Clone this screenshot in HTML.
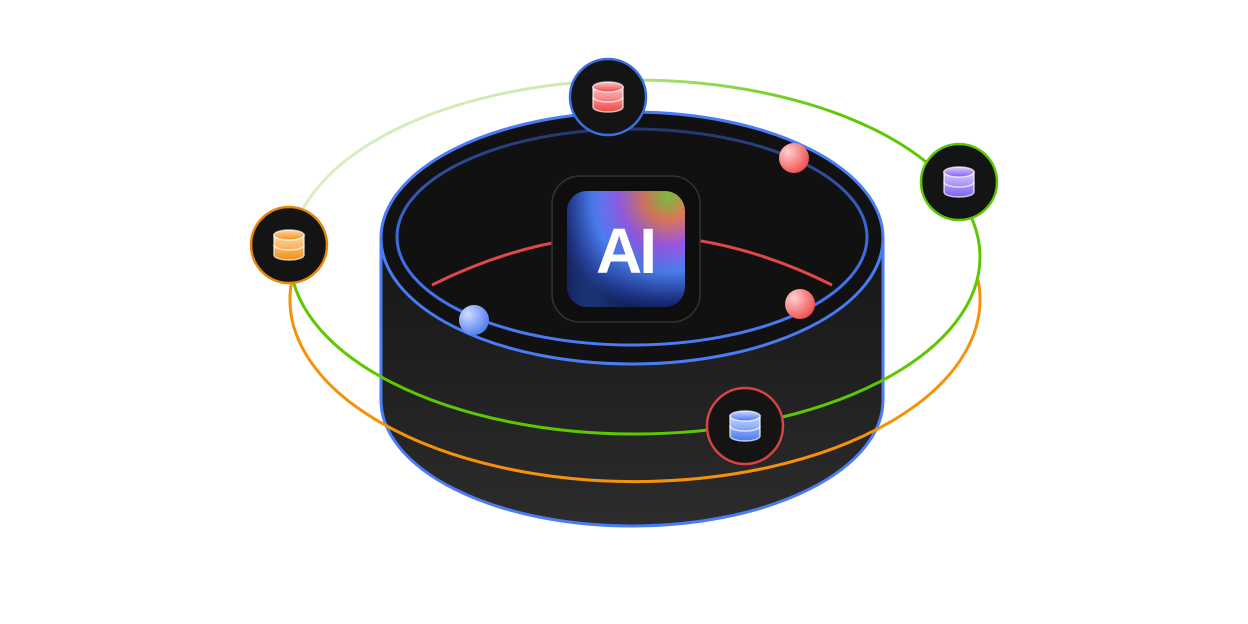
<!DOCTYPE html>
<html><head><meta charset="utf-8"><style>
html,body{margin:0;padding:0;background:#fff;width:1248px;height:624px;overflow:hidden}
</style></head><body>
<svg width="1248" height="624" viewBox="0 0 1248 624" xmlns="http://www.w3.org/2000/svg">
<defs>
<linearGradient id="side" x1="0" y1="0" x2="0" y2="1">
<stop offset="0" stop-color="#161616"/><stop offset="1" stop-color="#2c2c2c"/>
</linearGradient>
<linearGradient id="green" gradientUnits="userSpaceOnUse" x1="290" y1="0" x2="980" y2="0">
<stop offset="0" stop-color="#d8f0c0"/><stop offset="0.4" stop-color="#cdeab0"/><stop offset="0.8" stop-color="#5cc800"/><stop offset="1" stop-color="#5cc800"/>
</linearGradient>
<linearGradient id="innerRing" x1="0" y1="0" x2="0" y2="1">
<stop offset="0" stop-color="#24386e"/><stop offset="0.5" stop-color="#3d6ae0"/><stop offset="1" stop-color="#4a7cf5"/>
</linearGradient>
<radialGradient id="ai1" cx="0.85" cy="0.05" r="1">
<stop offset="0" stop-color="#7ec23a"/><stop offset="0.2" stop-color="#e0785a"/><stop offset="0.42" stop-color="#9a58e8"/><stop offset="0.65" stop-color="#4a7ef0"/><stop offset="0.9" stop-color="#1a2d80"/><stop offset="1" stop-color="#0c1a4a"/>
</radialGradient>
<linearGradient id="ai2" x1="0" y1="0" x2="1" y2="0">
<stop offset="0" stop-color="#1a2a70" stop-opacity="0.6"/><stop offset="0.3" stop-color="#4a7ef0" stop-opacity="0.2"/><stop offset="1" stop-color="#000" stop-opacity="0"/>
</linearGradient>
<linearGradient id="dbO" x1="0" y1="0" x2="0" y2="1"><stop offset="0" stop-color="#ffd9a8"/><stop offset="1" stop-color="#f0901a"/></linearGradient>
<linearGradient id="dbR" x1="0" y1="0" x2="0" y2="1"><stop offset="0" stop-color="#ffc0c0"/><stop offset="1" stop-color="#f04848"/></linearGradient>
<linearGradient id="dbP" x1="0" y1="0" x2="0" y2="1"><stop offset="0" stop-color="#d8ccff"/><stop offset="1" stop-color="#8060f0"/></linearGradient>
<linearGradient id="dbB" x1="0" y1="0" x2="0" y2="1"><stop offset="0" stop-color="#c8d8ff"/><stop offset="1" stop-color="#4a78f0"/></linearGradient>
<radialGradient id="ballR" cx="0.3" cy="0.3" r="0.8"><stop offset="0" stop-color="#ffd0d0"/><stop offset="1" stop-color="#f04848"/></radialGradient>
<radialGradient id="ballB" cx="0.3" cy="0.3" r="0.8"><stop offset="0" stop-color="#d0dcff"/><stop offset="1" stop-color="#4a78f0"/></radialGradient>
</defs>

<!-- cylinder -->
<path d="M381,238 L381,400 A251,126 0 0 0 883,400 L883,238 Z" fill="url(#side)" stroke="#4a7cf5" stroke-width="3"/>
<ellipse cx="632" cy="238" rx="251" ry="126" fill="#111" stroke="#4a7cf5" stroke-width="3"/>
<ellipse cx="632" cy="237" rx="235" ry="108" fill="#111" stroke="url(#innerRing)" stroke-width="3"/>
<path d="M432,285 Q632,185 832,285" fill="none" stroke="#e04848" stroke-width="3"/>

<!-- orbits -->
<path d="M292,280 A345,182 0 1 0 978,280" fill="none" stroke="#f5920a" stroke-width="3"/>
<path d="M290,257 A345,177 0 0 0 980,257" fill="none" stroke="#5cc800" stroke-width="3"/>
<path d="M290,257 A345,177 0 0 1 980,257" fill="none" stroke="url(#green)" stroke-width="3"/>

<!-- AI tile -->
<rect x="552" y="176" width="148" height="146" rx="28" fill="#0e0e0e" stroke="#333" stroke-width="1.5"/>
<rect x="567" y="191" width="118" height="116" rx="20" fill="url(#ai1)"/>
<rect x="567" y="191" width="118" height="116" rx="20" fill="url(#ai2)"/>
<text x="625" y="273" text-anchor="middle" font-family="Liberation Sans, sans-serif" font-size="64" font-weight="bold" fill="#fff" letter-spacing="-3">AI</text>

<!-- balls -->
<circle cx="794" cy="158" r="15" fill="url(#ballR)"/>
<circle cx="800" cy="304" r="15" fill="url(#ballR)"/>
<circle cx="474" cy="320" r="15" fill="url(#ballB)"/>

<!-- nodes -->
<g>
<circle cx="608" cy="97" r="38" fill="#141414" stroke="#3b6fe0" stroke-width="2.5"/>
<g transform="translate(608,97)" fill="url(#dbR)" stroke="#fff" stroke-width="1.5" stroke-opacity="0.7">
<path d="M-15,-10 L-15,10 A15,5 0 0 0 15,10 L15,-10 Z"/><ellipse cx="0" cy="-10" rx="15" ry="5"/><path d="M-15,0 A15,5 0 0 0 15,0" fill="none"/></g>
</g>
<g>
<circle cx="959" cy="182" r="38" fill="#141414" stroke="#5cc800" stroke-width="2.5"/>
<g transform="translate(959,182)" fill="url(#dbP)" stroke="#fff" stroke-width="1.5" stroke-opacity="0.7">
<path d="M-15,-10 L-15,10 A15,5 0 0 0 15,10 L15,-10 Z"/><ellipse cx="0" cy="-10" rx="15" ry="5"/><path d="M-15,0 A15,5 0 0 0 15,0" fill="none"/></g>
</g>
<g>
<circle cx="289" cy="245" r="38" fill="#141414" stroke="#e8880a" stroke-width="2.5"/>
<g transform="translate(289,245)" fill="url(#dbO)" stroke="#fff" stroke-width="1.5" stroke-opacity="0.7">
<path d="M-15,-10 L-15,10 A15,5 0 0 0 15,10 L15,-10 Z"/><ellipse cx="0" cy="-10" rx="15" ry="5"/><path d="M-15,0 A15,5 0 0 0 15,0" fill="none"/></g>
</g>
<g>
<circle cx="745" cy="426" r="38" fill="#141414" stroke="#d84444" stroke-width="2.5"/>
<g transform="translate(745,426)" fill="url(#dbB)" stroke="#fff" stroke-width="1.5" stroke-opacity="0.7">
<path d="M-15,-10 L-15,10 A15,5 0 0 0 15,10 L15,-10 Z"/><ellipse cx="0" cy="-10" rx="15" ry="5"/><path d="M-15,0 A15,5 0 0 0 15,0" fill="none"/></g>
</g>
</svg>
</body></html>
